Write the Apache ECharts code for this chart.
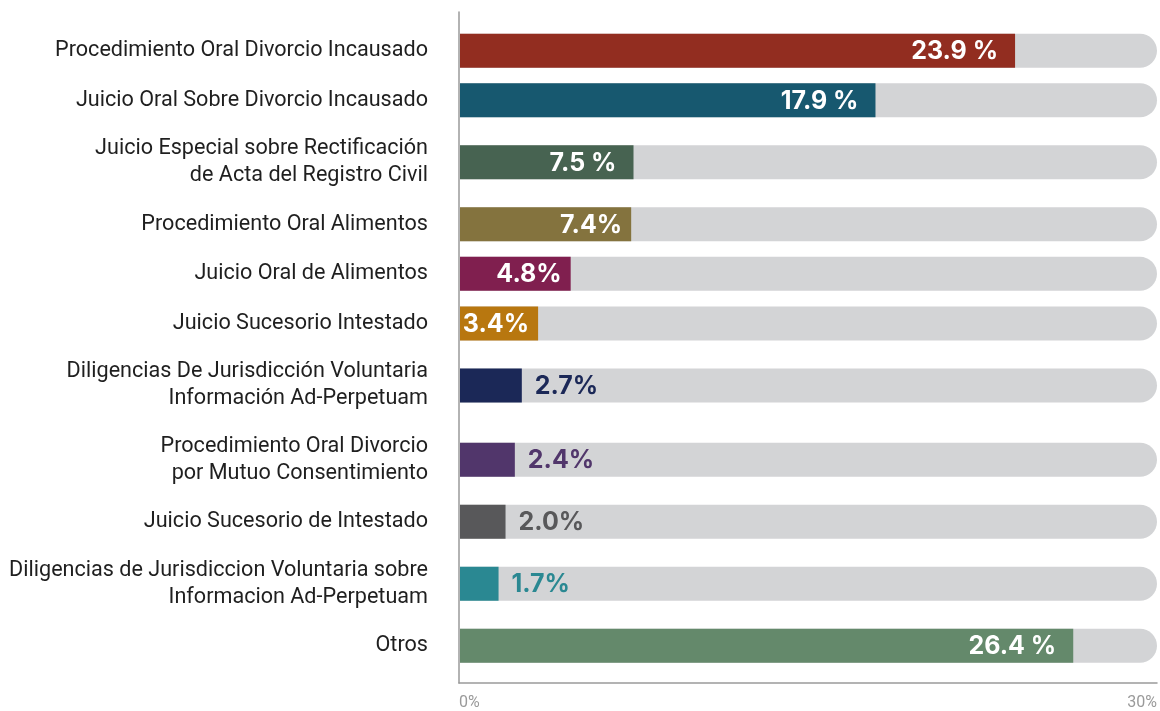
<!DOCTYPE html>
<html>
<head>
<meta charset="utf-8">
<script src="https://cdn.jsdelivr.net/npm/echarts@6/dist/echarts.min.js"></script>
<style>
  html, body { margin: 0; padding: 0; background: #ffffff; }
  #chart { width: 1160px; height: 711px; }
</style>
</head>
<body>
<div id="chart"></div>
<script>
// ---- Data ----
const categories = [
  'Procedimiento Oral Divorcio Incausado',
  'Juicio Oral Sobre Divorcio Incausado',
  'Juicio Especial sobre Rectificación\nde Acta del Registro Civil',
  'Procedimiento Oral Alimentos',
  'Juicio Oral de Alimentos',
  'Juicio Sucesorio Intestado',
  'Diligencias De Jurisdicción Voluntaria\nInformación Ad-Perpetuam',
  'Procedimiento Oral Divorcio\npor Mutuo Consentimiento',
  'Juicio Sucesorio de Intestado',
  'Diligencias de Jurisdiccion Voluntaria sobre\nInformacion Ad-Perpetuam',
  'Otros'
];
const values = [23.9, 17.9, 7.5, 7.4, 4.8, 3.4, 2.7, 2.4, 2.0, 1.7, 26.4];
const valueLabels = ['23.9 %', '17.9 %', '7.5 %', '7.4%', '4.8%', '3.4%', '2.7%', '2.4%', '2.0%', '1.7%', '26.4 %'];
const labelInside = [true, true, true, true, true, true, false, false, false, false, true];
const barColors = ['#922D20', '#17586F', '#476351', '#84733E', '#801F4F', '#B8770F', '#1B2857', '#51366B', '#58585A', '#2A8892', '#64896B'];
const axisTicks = [0, 30];

// ---- Row layout: each row's slot grows with the number of lines in its label ----
const slotSize = categories.map(c => c.split('\n').length > 1 ? 1.5 : 1);
const rowCenters = [];
(function () {
  let acc = 0;
  slotSize.forEach(s => { rowCenters.push(acc + s / 2); acc += s; });
})();
const totalSlots = slotSize.reduce((a, b) => a + b, 0);

const chart = echarts.init(document.getElementById('chart'), null, { renderer: 'canvas' });

const BAR_H = 34;
const labelFont = 'bold 25px Inter, Roboto, sans-serif';

chart.setOption({
  animation: false,
  backgroundColor: '#ffffff',
  grid: { left: 459, right: 0, top: 12, bottom: 24, containLabel: false },
  xAxis: {
    type: 'value',
    min: axisTicks[0],
    max: axisTicks[1],
    interval: 30,
    axisLine: { show: true, onZero: false, lineStyle: { color: '#9a9a9a', width: 1.5 } },
    axisTick: { show: false },
    splitLine: { show: false },
    axisLabel: {
      color: '#9a9a9a',
      fontFamily: 'Roboto, sans-serif',
      fontSize: 16,
      margin: 12,
      alignMinLabel: 'left',
      alignMaxLabel: 'right',
      formatter: v => v + '%'
    }
  },
  yAxis: {
    type: 'value',
    inverse: true,
    min: -0.28,
    max: totalSlots + 0.25,
    axisLine: { show: true, onZero: false, lineStyle: { color: '#9a9a9a', width: 1.5 } },
    axisTick: { show: false },
    splitLine: { show: false },
    axisLabel: {
      customValues: rowCenters,
      color: '#1f1f1f',
      fontFamily: 'Roboto, sans-serif',
      fontSize: 21.6,
      lineHeight: 27,
      margin: 31,
      align: 'right',
      formatter: v => {
        const i = rowCenters.findIndex(c => Math.abs(c - v) < 1e-6);
        return i >= 0 ? categories[i] : '';
      }
    }
  },
  series: [{
    type: 'custom',
    data: values.map((v, i) => [v, rowCenters[i], i]),
    encode: { x: 0, y: 1 },
    renderItem: function (params, api) {
      const v = api.value(0);
      const c = api.value(1);
      const i = api.value(2);
      const start = api.coord([axisTicks[0], c]);
      const end = api.coord([v, c]);
      const full = api.coord([axisTicks[1], c]);
      const y0 = start[1] - BAR_H / 2;
      const txt = valueLabels[i];
      const inside = labelInside[i];
      const dist = inside ? (txt.indexOf(' ') >= 0 ? 17 : 9) : 13;
      return {
        type: 'group',
        children: [
          { type: 'rect', shape: { x: start[0] + 1, y: y0, width: full[0] - start[0] - 1, height: BAR_H, r: [0, BAR_H / 2, BAR_H / 2, 0] }, style: { fill: '#D3D4D6' } },
          { type: 'rect', shape: { x: start[0] + 1, y: y0, width: end[0] - start[0] - 1, height: BAR_H }, style: { fill: barColors[i] } },
          {
            type: 'text',
            x: inside ? end[0] - dist : end[0] + dist,
            y: start[1] + 1,
            style: {
              text: txt,
              font: labelFont,
              fill: inside ? '#ffffff' : barColors[i],
              align: inside ? 'right' : 'left',
              verticalAlign: 'middle'
            }
          }
        ]
      };
    }
  }]
});
</script>
</body>
</html>
